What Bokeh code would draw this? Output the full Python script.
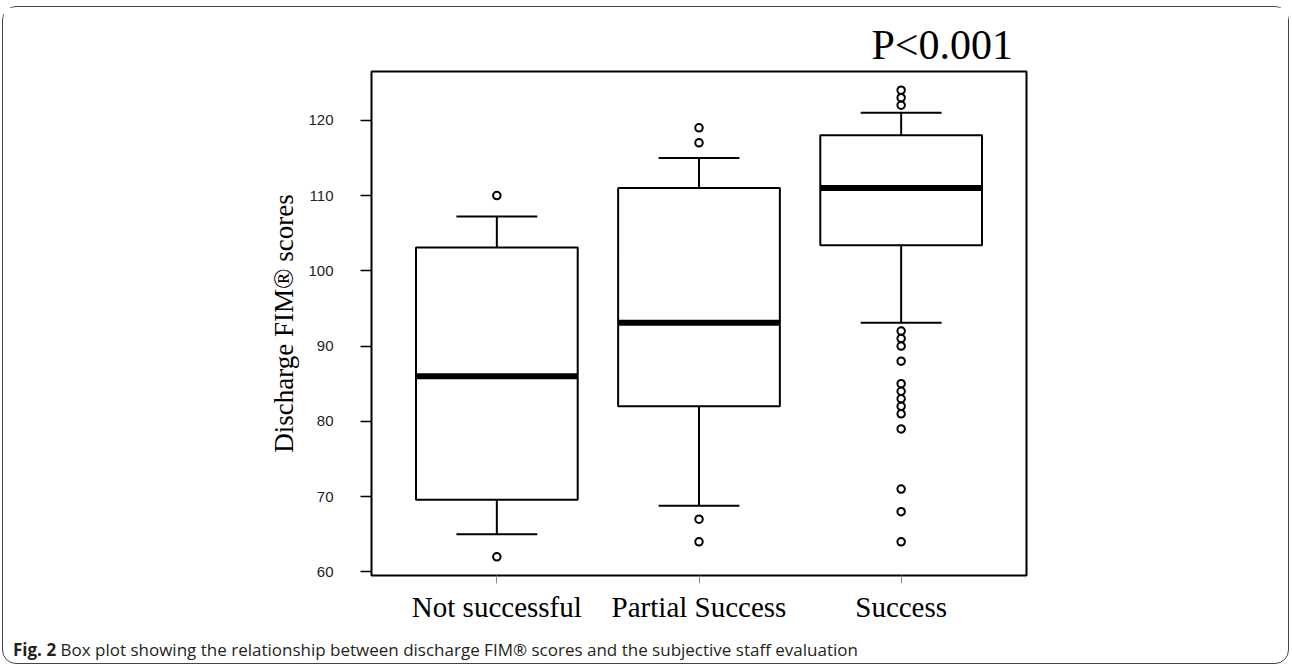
from bokeh.plotting import figure
from bokeh.models import Range1d, FixedTicker, Title, Div
from bokeh.layouts import column
from bokeh.embed import file_html
from bokeh.resources import INLINE

# ---- data ----
categories = ["Not successful", "Partial Success", "Success"]
q1 = [69.6, 82.0, 103.4]
medians = [86.0, 93.1, 111.0]
q3 = [103.1, 111.0, 118.0]
whisker_low = [65.0, 68.8, 93.1]
whisker_high = [107.2, 115.0, 121.0]
outliers_not = [110, 62]
outliers_partial = [119, 117, 67, 64]
outliers_success = [124, 123, 122, 92, 91, 90, 88, 85, 84, 83, 82, 81, 79, 71, 68, 64]
y_ticks = [60, 70, 80, 90, 100, 110, 120]
p_text = "P<0.001"
y_title = "Discharge FIM® scores"
caption_bold = "Fig. 2"
caption_text = "Box plot showing the relationship between discharge FIM® scores and the subjective staff evaluation"

outliers = [outliers_not, outliers_partial, outliers_success]
xs = [i + 1 for i in range(len(categories))]

all_vals = q1 + q3 + whisker_low + whisker_high + [v for o in outliers for v in o]
lo, hi = min(all_vals), max(all_vals)
pad = (hi - lo) * 0.04
n = len(categories)
xpad = n * 0.04

W, H = 1285, 630
p = figure(width=W, height=H,
           x_range=Range1d(0.5 - xpad, n + 0.5 + xpad),
           y_range=Range1d(lo - pad, hi + pad),
           output_backend="svg", toolbar_location=None, title=None,
           min_border_left=368, min_border_right=262,
           min_border_top=64, min_border_bottom=62, margin=0)

p.grid.visible = False
p.background_fill_color = "white"
p.border_fill_color = "white"
p.outline_line_color = "black"
p.outline_line_width = 2
p.outline_line_alpha = 1.0

# boxes
p.quad(left=[x - 0.4 for x in xs], right=[x + 0.4 for x in xs], bottom=q1, top=q3,
       fill_color="white", line_color="black", line_width=2)
# medians
p.segment(x0=[x - 0.4 for x in xs], x1=[x + 0.4 for x in xs], y0=medians, y1=medians,
          line_color="black", line_width=6, line_cap="butt")
# whiskers
p.segment(x0=xs, x1=xs, y0=q3, y1=whisker_high, line_color="black", line_width=2)
p.segment(x0=xs, x1=xs, y0=q1, y1=whisker_low, line_color="black", line_width=2)
# staples
p.segment(x0=[x - 0.2 for x in xs], x1=[x + 0.2 for x in xs], y0=whisker_high, y1=whisker_high,
          line_color="black", line_width=2)
p.segment(x0=[x - 0.2 for x in xs], x1=[x + 0.2 for x in xs], y0=whisker_low, y1=whisker_low,
          line_color="black", line_width=2)
# outliers
ox = [x for x, o in zip(xs, outliers) for _ in o]
oy = [v for o in outliers for v in o]
p.scatter(ox, oy, marker="circle", size=7.5, fill_color=None, line_color="black", line_width=2)

# x axis
p.xaxis.ticker = FixedTicker(ticks=xs)
p.xaxis.major_label_overrides = {x: c for x, c in zip(xs, categories)}
p.xaxis.axis_line_color = None
p.xaxis.major_tick_in = 0
p.xaxis.major_tick_out = 8
p.xaxis.major_tick_line_color = "#888888"
p.xaxis.minor_tick_line_color = None
p.xaxis.major_label_text_font = "Liberation Serif"
p.xaxis.major_label_text_font_size = "29px"
p.xaxis.major_label_text_color = "black"
p.xaxis.major_label_standoff = 7

# y axis
p.yaxis.ticker = FixedTicker(ticks=y_ticks)
p.yaxis.axis_line_color = None
p.yaxis.major_tick_in = 0
p.yaxis.major_tick_out = 11
p.yaxis.major_tick_line_color = "black"
p.yaxis.major_tick_line_width = 1.5
p.yaxis.minor_tick_line_color = None
p.yaxis.major_label_text_font = "Liberation Sans"
p.yaxis.major_label_text_font_size = "15px"
p.yaxis.major_label_text_color = "#222222"
p.yaxis.major_label_standoff = 27
p.yaxis.axis_label = y_title
p.yaxis.axis_label_text_font = "Liberation Serif"
p.yaxis.axis_label_text_font_size = "27px"
p.yaxis.axis_label_text_font_style = "normal"
p.yaxis.axis_label_text_color = "black"
p.yaxis.axis_label_standoff = 6

# p-value text above the frame
p.add_layout(Title(text=p_text, align="left", offset=500, standoff=7,
                   text_font="Liberation Serif", text_font_size="42px",
                   text_font_style="normal", text_color="black"), "above")

caption = Div(text=f"<b>{caption_bold}</b> {caption_text}", width=W, height=26, margin=0,
              styles={"font-family": "'Open Sans', sans-serif", "font-size": "17px",
                      "color": "#231f20", "padding-left": "10px",
                      "line-height": "26px", "white-space": "nowrap"})

layout = column(p, caption, spacing=0)
layout.styles = {"border": "1.5px solid #444444", "border-radius": "14px",
                 "margin": "6px 0 0 2px", "background-color": "white"}

open("out.html", "w").write(file_html(layout, INLINE))
